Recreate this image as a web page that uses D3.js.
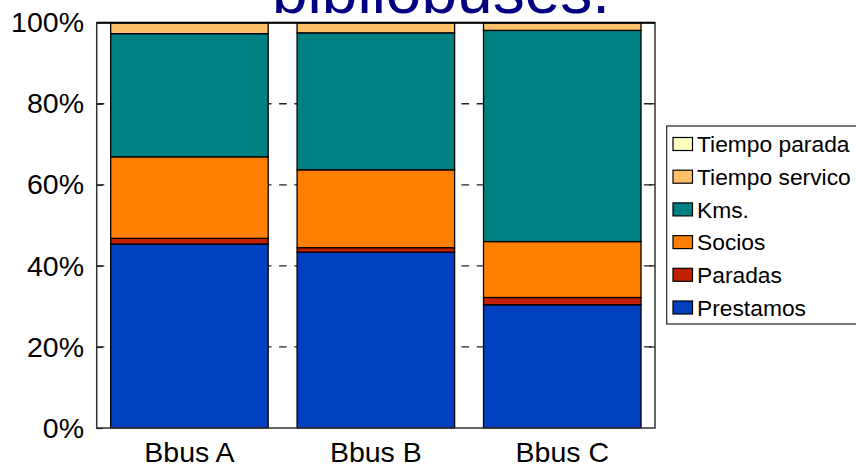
<!DOCTYPE html>
<html>
<head>
<meta charset="utf-8">
<script src="https://cdn.jsdelivr.net/npm/d3@7"></script>
<style>
  body { margin: 0; background: #fff; }
  svg { display: block; font-family: "Liberation Sans", Arial, sans-serif; }
</style>
</head>
<body>
<div id="chart"></div>
<script>
// categories and series (percent of each bus)
const buses = ["Bbus A", "Bbus B", "Bbus C"];
const seriesNames = ["Prestamos", "Paradas", "Socios", "Kms.", "Tiempo servico", "Tiempo parada"];
const prestamos = [45.4, 43.4, 30.4];
const paradas = [1.4, 1.1, 1.8];
const socios = [20.1, 19.2, 13.8];
const kms = [30.4, 33.8, 52.1];
const tiempoServico = [2.7, 2.5, 1.9];
const tiempoParada = [0, 0, 0];
const yTicks = [0, 20, 40, 60, 80, 100];
const colors = ["#0040C0", "#C02000", "#FF8000", "#008080", "#FFC068", "#FFFFC0"];

function init() {
  const W = 856, H = 470;
  const plot = { left: 96.7, right: 655, top: 22.7, bottom: 428 };

  const svg = d3.select("#chart").append("svg")
    .attr("width", W).attr("height", H);

  // build rows for the stack
  const allSeries = [prestamos, paradas, socios, kms, tiempoServico, tiempoParada];
  const rows = buses.map(function (b, i) {
    const r = { bus: b };
    seriesNames.forEach(function (s, j) { r[s] = allSeries[j][i]; });
    return r;
  });
  const stacked = d3.stack().keys(seriesNames)(rows);

  const x = d3.scaleBand().domain(buses)
    .range([plot.left, plot.right])
    .paddingInner(0.155).paddingOuter(0.075);
  const y = d3.scaleLinear().domain([0, 100]).range([plot.bottom, plot.top]);
  const color = d3.scaleOrdinal().domain(seriesNames).range(colors);

  // title (partly cut off at the top, as in the original)
  svg.append("text")
    .attr("x", 441).attr("y", 12.5)
    .attr("text-anchor", "middle")
    .style("font-size", "64px")
    .style("fill", "#000080")
    .text("bibliobuses.");

  // dashed gridlines behind bars
  svg.append("g").selectAll("line")
    .data(yTicks.filter(function (d) { return d > 0 && d < 100; }))
    .enter().append("line")
    .attr("x1", plot.left).attr("x2", plot.right)
    .attr("y1", function (d) { return y(d); })
    .attr("y2", function (d) { return y(d); })
    .attr("stroke", "#222").attr("stroke-width", 1.3)
    .attr("stroke-dasharray", "7.6,7.6");

  // right side inner ticks
  svg.append("g").selectAll("line")
    .data(yTicks.filter(function (d) { return d > 0 && d < 100; }))
    .enter().append("line")
    .attr("x1", plot.right - 6).attr("x2", plot.right)
    .attr("y1", function (d) { return y(d); })
    .attr("y2", function (d) { return y(d); })
    .attr("stroke", "#222").attr("stroke-width", 1.3);

  // bars
  svg.append("g").selectAll("g")
    .data(stacked)
    .enter().append("g")
    .attr("fill", function (d) { return color(d.key); })
    .selectAll("rect")
    .data(function (d) { return d.filter(function (p) { return p[1] - p[0] > 0; }); })
    .enter().append("rect")
    .attr("x", function (d) { return x(d.data.bus); })
    .attr("width", x.bandwidth())
    .attr("y", function (d) { return y(d[1]); })
    .attr("height", function (d) { return y(d[0]) - y(d[1]); })
    .attr("stroke", "#000").attr("stroke-width", 1.3);

  // plot frame
  svg.append("rect")
    .attr("x", plot.left).attr("y", plot.top)
    .attr("width", plot.right - plot.left).attr("height", plot.bottom - plot.top)
    .attr("fill", "none").attr("stroke", "#333").attr("stroke-width", 1.5);
  svg.append("line")
    .attr("x1", plot.left).attr("x2", plot.right)
    .attr("y1", plot.top).attr("y2", plot.top)
    .attr("stroke", "#000").attr("stroke-width", 2);

  // y axis (inner ticks)
  const yAxis = svg.append("g")
    .attr("transform", "translate(" + plot.left + ",0)")
    .call(d3.axisLeft(y).tickValues(yTicks).tickSize(-6).tickPadding(19)
      .tickFormat(function (d) { return d + "%"; }));
  yAxis.select(".domain").remove();
  yAxis.selectAll(".tick line").attr("stroke", "#222").attr("stroke-width", 1.3);
  yAxis.selectAll("text")
    .attr("x", -12.7)
    .style("font-size", "28.5px").style("font-family", "Liberation Sans, Arial, sans-serif")
    .attr("fill", "#000");

  // x axis
  const xAxis = svg.append("g")
    .attr("transform", "translate(0," + plot.bottom + ")")
    .call(d3.axisBottom(x).tickSize(0).tickPadding(14));
  xAxis.select(".domain").remove();
  xAxis.selectAll("text")
    .style("font-size", "28.5px").style("font-family", "Liberation Sans, Arial, sans-serif")
    .attr("fill", "#000");

  // legend
  const legendItems = seriesNames.slice().reverse();
  const legend = svg.append("g");
  legend.append("rect")
    .attr("x", 666.7).attr("y", 126)
    .attr("width", 200).attr("height", 198)
    .attr("fill", "#fff").attr("stroke", "#333").attr("stroke-width", 1.3);
  const item = legend.selectAll("g.item")
    .data(legendItems)
    .enter().append("g").attr("class", "item")
    .attr("transform", function (d, i) { return "translate(673," + (144 + i * 32.7) + ")"; });
  item.append("rect")
    .attr("x", 0).attr("y", -6.5).attr("width", 19.5).attr("height", 13)
    .attr("fill", function (d) { return color(d); })
    .attr("stroke", "#000").attr("stroke-width", 1.2);
  item.append("text")
    .attr("x", 24).attr("y", 0).attr("dy", "0.36em")
    .style("font-size", "22.8px")
    .text(function (d) { return d; });
}

window.onload = init;
</script>
</body>
</html>
